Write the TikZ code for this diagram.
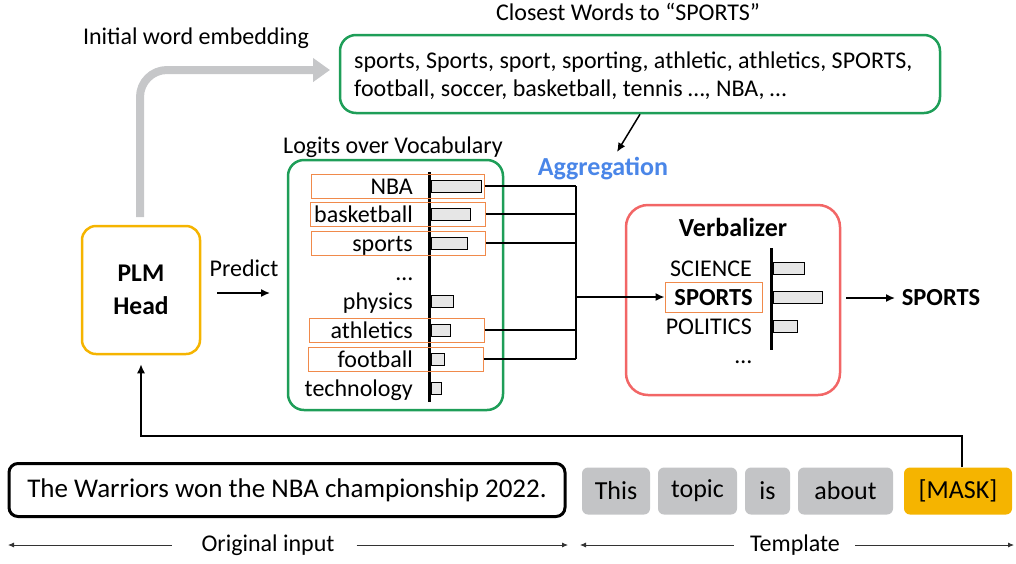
\documentclass[tikz,border=0pt]{standalone}
\usepackage{fontspec}
\setmainfont{Carlito}
\usetikzlibrary{positioning,arrows.meta}

\definecolor{boxgreen}{HTML}{1E9E58}
\definecolor{hlorange}{HTML}{F08A4B}
\definecolor{plmyellow}{HTML}{F5B400}
\definecolor{verbred}{HTML}{F26666}
\definecolor{tokgray}{HTML}{C3C4C6}
\definecolor{maskamber}{HTML}{F5B400}
\definecolor{aggblue}{HTML}{4A86E8}
\definecolor{bargray}{HTML}{E6E6E6}
\definecolor{embgray}{HTML}{C6C7C9}

\tikzset{
  txt/.style={font=\fontsize{24}{28}\selectfont, inner sep=0pt},
  bold/.style={font=\fontsize{24.5}{28}\selectfont\bfseries, inner sep=0pt},
  word/.style={txt, anchor=east, text height=19pt, text depth=3pt},
  bar/.style={draw, fill=bargray, line width=1pt},
  hlbox/.style={draw=hlorange, line width=1pt, inner sep=0pt},
  panel/.style={rounded corners=16pt, line width=2.5pt, inner sep=0pt},
  token/.style={fill=tokgray, rounded corners=6pt, minimum height=47pt, inner sep=0pt,
    font=\fontsize{26}{30}\selectfont},
  conn/.style={line width=1.5pt},
  tip/.style={-{Latex[length=9pt,width=8pt]}},
  spanline/.style={line width=0.8pt, draw=black!80, >={Latex[length=6pt,width=5pt]}}
}

\begin{document}
\begin{tikzpicture}[x=1pt,y=-1pt]
\useasboundingbox (0,0) rectangle (1016,563);

% top: closest words
\node[txt] (closesttitle) at (628,12) {Closest Words to “SPORTS”};
\node[txt] (embtitle) at (196,38) {Initial word embedding};
\node[panel, draw=boxgreen, minimum width=600, minimum height=78] (closest) at (640,74) {};
\node[txt, anchor=west, align=left] (closesttext) at (354,76)
  {sports, Sports, sport, sporting, athletic, athletics, SPORTS,\\
   football, soccer, basketball, tennis …, NBA, …};

% PLM head
\node[panel, draw=plmyellow, rounded corners=14pt, minimum width=118, minimum height=128,
  align=center, font=\fontsize{25.5}{33}\selectfont\bfseries] (plm) at (141,290) {PLM\\Head};
\coordinate (embturn) at (140,70);
\coordinate (embend) at (330,70);
\draw[embgray, line width=8pt, rounded corners=27pt,
  -{Triangle[length=17pt,width=23pt]}] (140,217) -- (embturn) -- (embend);

\node[txt] (predict) at (244,268) {Predict};
\draw[conn, tip] (217,293) -- (270,293);

% logits over vocabulary
\node[txt] (logitstitle) at (393,147) {Logits over Vocabulary};
\node[panel, draw=boxgreen, minimum width=215, minimum height=250] (logits) at (395.5,285) {};
\draw[line width=3pt] (429,172) -- (429,402);
\foreach \w/\y/\len in {NBA/186/50, basketball/214/39, sports/243/36, …/272/0,
  physics/301/22, athletics/330/19, football/359/13, technology/388/10} {
  \node[word] (w-\y) at (413,\y) {\w};
  \ifnum\len>0 \draw[bar] (431,\y-6) rectangle ++(\len,12); \fi
}
\foreach \y/\xl/\xr in {186/311/484, 214/310/485, 243/311/485, 330/309/484, 359/308/483} {
  \node[hlbox, minimum width=\xr-\xl, minimum height=24] (hl-\y) at ({(\xl+\xr)/2},\y) {};
}

% aggregation
\node[bold, font=\fontsize{26}{28}\selectfont\bfseries, text=aggblue] (agg) at (603,169) {Aggregation};
\draw[conn, tip] (closest.south) -- (617,152);
\coordinate (jtop) at (576,186);
\coordinate (jbot) at (576,359);
\coordinate (jmid) at (576,297);
\foreach \y in {186,214,243,330,359} {
  \draw[conn] (hl-\y.east) -- (hl-\y.east -| jtop);
}
\draw[conn] (jtop) -- (jbot);

% verbalizer
\node[panel, draw=verbred, rounded corners=22pt, minimum width=214, minimum height=190] (verb) at (733,300) {};
\node[bold, font=\fontsize{26}{28}\selectfont\bfseries] (verbtitle) at (733,227) {Verbalizer};
\draw[line width=3pt] (771,248) -- (771,350);
\node[word] (v-sci) at (752,268) {SCIENCE};
\node[word, font=\fontsize{24.5}{28}\selectfont\bfseries] (v-sp) at (753,297) {SPORTS};
\node[word] (v-pol) at (752,326) {POLITICS};
\node[word] (v-dots) at (752,355) {…};
\draw[bar] (773,262) rectangle ++(31,12);
\draw[bar] (773,291) rectangle ++(49,12);
\draw[bar] (773,320) rectangle ++(24,12);
\node[hlbox, minimum width=97, minimum height=30] (hl-sp) at (713.5,297) {};
\draw[conn, tip] (jmid) -- (hl-sp.west);

\node[bold] (out) at (941,298) {SPORTS};
\draw[conn, tip] (846,298) -- (895,298);

% bottom: input and template
\node[draw, line width=3pt, rounded corners=9pt, minimum width=556, minimum height=53,
  inner sep=0pt, font=\fontsize{27}{30}\selectfont] (input) at (287,490) {The Warriors won the NBA championship 2022.};
\node[token, minimum width=68] (t-this) at (616,491) {This};
\node[token, minimum width=79] (t-topic) at (697.5,491) {topic};
\node[token, minimum width=45] (t-is) at (767.5,491) {is};
\node[token, minimum width=95] (t-about) at (845.5,491) {about};
\node[token, fill=maskamber, minimum width=108] (mask) at (958,491) {[MASK]};

\coordinate (maskturn) at (141,436);
\draw[conn, tip, shorten >=9pt] (mask.north -| 962,0) -- (962,436) -- (maskturn) -- (plm.south);

\node[txt] (origlabel) at (268,545) {Original input};
\node[txt] (templabel) at (795,545) {Template};
\coordinate (origL) at (8,545);
\coordinate (origR) at (568,545);
\coordinate (tempL) at (580,545);
\coordinate (tempR) at (1014,545);
\draw[spanline, <-] (origL) -- ([xshift=-29pt]origlabel.west);
\draw[spanline, ->] ([xshift=22pt]origlabel.east) -- (origR);
\draw[spanline, <-] (tempL) -- ([xshift=-16pt]templabel.west);
\draw[spanline, ->] ([xshift=15pt]templabel.east) -- (tempR);
\end{tikzpicture}
\end{document}
